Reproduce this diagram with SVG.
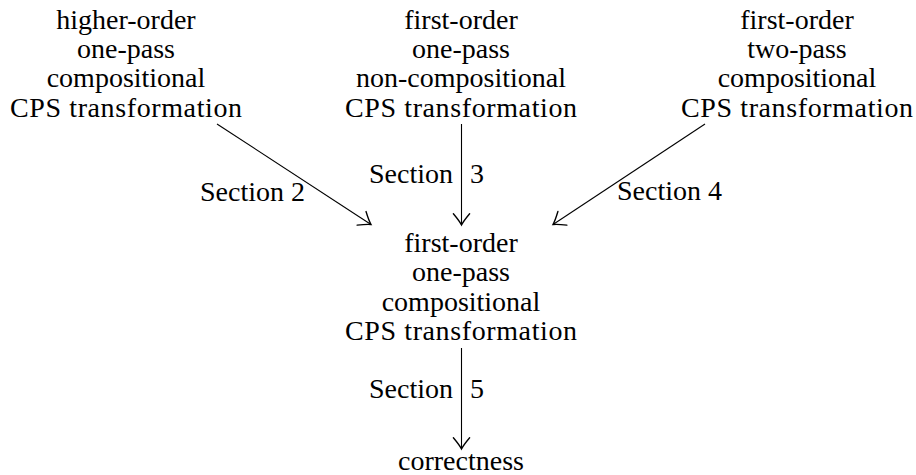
<svg xmlns="http://www.w3.org/2000/svg" width="916" height="475" viewBox="0 0 916 475">
<style>
text{font-family:"Liberation Serif","Times New Roman",serif;font-size:28px;fill:#000}
.c{text-anchor:middle}
.e{text-anchor:end}
.conn{stroke:#000;stroke-width:1.1;fill:none}
</style>
<defs>
<marker id="to" markerUnits="userSpaceOnUse" markerWidth="20" markerHeight="20" viewBox="-12 -8 16 16" refX="0" refY="0" orient="auto" overflow="visible">
<path d="M-9,-6.5 Q-3,-1.5 0,0 Q-3,1.5 -9,6.5" fill="none" stroke="#000" stroke-width="1.1" stroke-linecap="round"/>
</marker>
</defs>
<rect width="916" height="475" fill="#fff"/>
<g id="n1">
<text class="c" x="126" y="28.7">higher-order</text>
<text class="c" x="126" y="58">one-pass</text>
<text class="c" x="126" y="87.3">compositional</text>
<text class="c" x="126" y="116.7" textLength="232" lengthAdjust="spacing">CPS transformation</text>
</g>
<g id="n2">
<text class="c" x="461" y="28.7">first-order</text>
<text class="c" x="461" y="58">one-pass</text>
<text class="c" x="461" y="87.3">non-compositional</text>
<text class="c" x="461" y="116.7" textLength="232" lengthAdjust="spacing">CPS transformation</text>
</g>
<g id="n3">
<text class="c" x="797" y="28.7">first-order</text>
<text class="c" x="797" y="58">two-pass</text>
<text class="c" x="797" y="87.3">compositional</text>
<text class="c" x="797" y="116.7" textLength="232" lengthAdjust="spacing">CPS transformation</text>
</g>
<g id="n4">
<text class="c" x="461" y="252">first-order</text>
<text class="c" x="461" y="281.3">one-pass</text>
<text class="c" x="461" y="310.6">compositional</text>
<text class="c" x="461" y="339.5" textLength="232" lengthAdjust="spacing">CPS transformation</text>
</g>
<g id="n5">
<text class="c" x="461" y="470">correctness</text>
</g>
<g id="connectors">
<line class="conn" x1="217" y1="124" x2="371" y2="224.5" marker-end="url(#to)"/>
<line class="conn" x1="461.5" y1="124" x2="461.5" y2="225" marker-end="url(#to)"/>
<line class="conn" x1="705" y1="124" x2="553" y2="224.5" marker-end="url(#to)"/>
<line class="conn" x1="461.5" y1="348" x2="461.5" y2="449" marker-end="url(#to)"/>
<text x="200" y="201">Section 2</text>
<text class="e" x="453" y="183">Section</text>
<text x="470" y="183">3</text>
<text x="617" y="200">Section 4</text>
<text class="e" x="453" y="398">Section</text>
<text x="470" y="398">5</text>
</g>
</svg>
